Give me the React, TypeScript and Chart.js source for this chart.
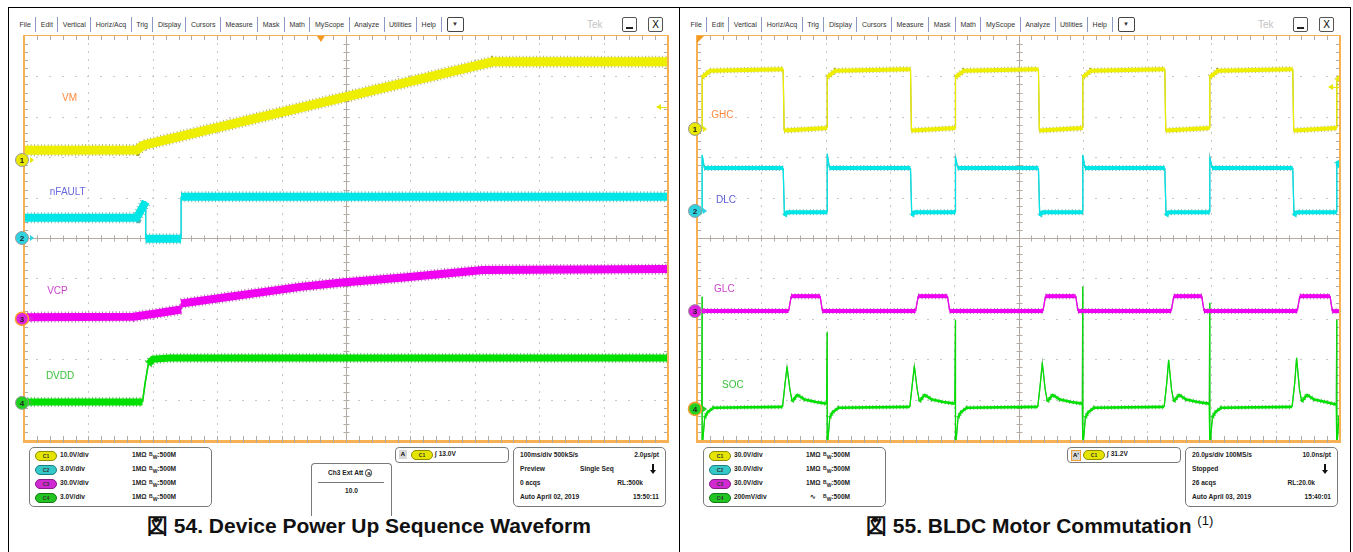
import React, { useEffect, useRef } from "react";
import { Chart, registerables } from "chart.js";

Chart.register(...registerables);

// ---------------- Figure 54 (x: ms, 100 ms/div ; y: screen divisions from centre) --------------
const vmTime = [0, 175, 186, 727, 1000];
const vmLevel = [2.17, 2.18, 2.3, 4.36, 4.36];
const nfaultTime = [0, 175, 189, 189, 244, 244, 1000];
const nfaultLevel = [0.5, 0.5, 0.9, -0.02, -0.02, 1.02, 1.02];
const vcpTime = [0, 170, 205, 244, 244, 429, 490, 594, 713, 1000];
const vcpLevel = [-1.96, -1.95, -1.87, -1.77, -1.62, -1.21, -1.11, -0.97, -0.79, -0.77];
const dvddTime = [0, 184, 188, 193, 200, 225, 1000];
const dvddLevel = [-4.06, -4.06, -3.6, -3.12, -3.0, -2.97, -2.97];

// ---------------- Figure 55 (x: µs, 20 µs/div ; y: screen divisions from centre) --------------
const ghcTime = [0, 1.6, 1.6, 4, 26.8, 27.1, 40.5, 40.5, 43, 66.4, 66.7, 80.4, 80.4, 83, 106.2, 106.5, 120.0, 120.0, 122.5, 145.5, 145.8, 159.5, 159.5, 162, 185.3, 185.6, 199.0, 199.0, 200];
const ghcLevel = [2.7, 2.7, 3.98, 4.14, 4.18, 2.66, 2.72, 3.98, 4.14, 4.18, 2.66, 2.72, 3.98, 4.14, 4.18, 2.66, 2.72, 3.98, 4.14, 4.18, 2.66, 2.72, 3.98, 4.14, 4.18, 2.66, 2.72, 3.9, 4.0];
const dlcTime = [0, 1.6, 1.6, 2.3, 26.8, 27.2, 28.0, 40.5, 40.5, 41.2, 66.4, 66.8, 67.6, 80.4, 80.4, 81.1, 106.2, 106.6, 107.4, 120.0, 120.0, 120.7, 145.5, 145.9, 146.7, 159.5, 159.5, 160.2, 185.3, 185.7, 186.5, 199.0, 199.0, 200];
const dlcLevel = [0.64, 0.64, 2.05, 1.73, 1.73, 0.55, 0.64, 0.64, 2.08, 1.73, 1.73, 0.55, 0.64, 0.64, 2.0, 1.73, 1.73, 0.55, 0.64, 0.64, 2.05, 1.73, 1.73, 0.55, 0.64, 0.64, 2.0, 1.73, 1.73, 0.55, 0.64, 0.64, 1.9, 1.75];
const glcTime = [0, 28.5, 29.3, 38.3, 39.0, 68.0, 68.8, 77.9, 78.6, 107.6, 108.4, 117.8, 118.5, 147.5, 148.3, 157.0, 157.7, 186.7, 187.5, 196.9, 197.6, 200];
const glcLevel = [-1.81, -1.81, -1.44, -1.44, -1.81, -1.81, -1.44, -1.44, -1.81, -1.81, -1.44, -1.44, -1.81, -1.81, -1.44, -1.44, -1.81, -1.81, -1.44, -1.44, -1.81, -1.81];
const socTime = [
  0, 1.5, 1.6, 1.6, 2.4, 3.2, 5.1,
  26.6, 27.4, 28.0, 28.9, 29.6, 31.2, 33.5, 37.0, 40.3, 40.5, 40.5, 41.3, 42.1, 44.0,
  66.2, 67.0, 67.6, 68.5, 69.2, 70.8, 73.1, 76.6, 80.2, 80.4, 80.4, 81.2, 82.0, 83.9,
  106.0, 106.8, 107.4, 108.3, 109.0, 110.6, 112.9, 116.4, 119.8, 120.0, 120.0, 120.8, 121.6, 123.5,
  145.3, 146.1, 146.7, 147.6, 148.3, 149.9, 152.2, 155.7, 159.3, 159.5, 159.5, 160.3, 161.1, 163.0,
  185.1, 185.9, 186.5, 187.4, 188.1, 189.7, 192.0, 195.5, 198.8, 199.0, 199.0, 199.6, 200,
];
const socLevel = [
  -4.25, -4.2, -1.46, -5.2, -4.45, -4.32, -4.2,
  -4.18, -3.6, -3.19, -3.75, -4.05, -3.88, -4.0, -4.06, -4.1, -2.33, -5.2, -4.45, -4.32, -4.2,
  -4.18, -3.6, -3.17, -3.75, -4.05, -3.88, -4.0, -4.06, -4.1, -2.03, -5.2, -4.45, -4.32, -4.2,
  -4.18, -3.6, -3.09, -3.75, -4.05, -3.88, -4.0, -4.06, -4.1, -1.21, -5.2, -4.45, -4.32, -4.2,
  -4.18, -3.6, -3.02, -3.75, -4.05, -3.88, -4.0, -4.06, -4.1, -1.61, -5.2, -4.45, -4.32, -4.2,
  -4.18, -3.6, -2.97, -3.75, -4.05, -3.88, -4.0, -4.06, -4.12, -2.03, -5.2, -4.5, -4.4,
];

// ---------------- texts ----------------
const menuItems = ["File", "Edit", "Vertical", "Horiz/Acq", "Trig", "Display", "Cursors", "Measure", "Mask", "Math", "MyScope", "Analyze", "Utilities", "Help"];
const leftScales = ["10.0V/div", "3.0V/div", "30.0V/div", "3.0V/div"];
const rightScales = ["30.0V/div", "30.0V/div", "30.0V/div", "200mV/div"];
const leftTimebase = [["100ms/div 500kS/s", "2.0µs/pt"], ["Preview", "Single Seq"], ["0 acqs", "RL:500k"], ["Auto   April 02, 2019", "15:50:11"]];
const rightTimebase = [["20.0µs/div 100MS/s", "10.0ns/pt"], ["Stopped", ""], ["26 acqs", "RL:20.0k"], ["Auto   April 03, 2019", "15:40:01"]];

const FONT = '"Liberation Sans", Arial, sans-serif';
const C = {
  yellow: "#eeee00", yellowEdge: "rgba(140,136,0,0.75)",
  cyan: "#00e6e6", cyanEdge: "rgba(20,140,140,0.7)",
  magenta: "#f000f0", magentaEdge: "rgba(140,20,140,0.7)",
  green: "#00e000", greenEdge: "rgba(20,140,20,0.7)",
};
const pillColors = [
  ["#e4e400", "#8e8e00"], ["#36c8c8", "#1d8080"], ["#d22ad2", "#861a86"], ["#22c422", "#157a15"],
];

type Marker = { n: string; y: number; fill: string; ring: string };
type Label = { text: string; x: number; y: number; color: string };
type ScopeCfg = { markers: Marker[]; labels: Label[]; trigLevel: number; trigPos: number | null };

function steep(c: any) {
  return Math.abs(c.p1.y - c.p0.y) > 2 * Math.abs(c.p1.x - c.p0.x) + 1.5;
}

function trace(xs: number[], ys: number[], core: string, edge: string, w: number, ew: number, thin: number) {
  const data = xs.map((x, i) => ({ x, y: ys[i] }));
  return [
    {
      data, borderColor: core, borderWidth: w, order: 0, pointRadius: 0, clip: 0,
      borderJoinStyle: "round" as const,
      segment: { borderWidth: (c: any) => (steep(c) ? thin : undefined) },
    },
    {
      data, borderColor: edge, borderWidth: ew, order: 1, pointRadius: 0, clip: 0,
      borderDash: [0.8, 2.6],
      segment: {
        borderWidth: (c: any) => (steep(c) ? thin : undefined),
        borderDash: (c: any) => (steep(c) ? [] : undefined),
      },
    },
  ];
}

function makeScopePlugin(cfg: ScopeCfg) {
  return {
    id: "scope",
    beforeDatasetsDraw(chart: any) {
      const { ctx, chartArea: a, scales } = chart;
      const xs = scales.x, ys = scales.y;
      const x0 = xs.min, xd = (xs.max - xs.min) / 10;
      ctx.save();
      // dotted grid
      ctx.fillStyle = "#c8c8c8";
      for (let i = 1; i < 10; i++) {
        if (i === 5) continue;
        const px = Math.round(xs.getPixelForValue(x0 + i * xd));
        for (let k = 1; k < 50; k++) {
          const py = Math.round(ys.getPixelForValue(-5 + k * 0.2));
          ctx.fillRect(px, py - 1, 1, 2);
        }
      }
      for (let j = -4; j <= 4; j++) {
        if (j === 0) continue;
        const py = Math.round(ys.getPixelForValue(j));
        for (let k = 1; k < 50; k++) {
          const px = Math.round(xs.getPixelForValue(x0 + (k * xd) / 5));
          ctx.fillRect(px - 1, py, 2, 1);
        }
      }
      // centre lines with ticks
      ctx.strokeStyle = "#b3aba1";
      ctx.lineWidth = 1;
      const cx = Math.round(xs.getPixelForValue(x0 + 5 * xd)) + 0.5;
      const cy = Math.round(ys.getPixelForValue(0)) + 0.5;
      ctx.beginPath();
      ctx.moveTo(a.left, cy); ctx.lineTo(a.right, cy);
      ctx.moveTo(cx, a.top); ctx.lineTo(cx, a.bottom);
      for (let k = 1; k < 50; k++) {
        const px = Math.round(xs.getPixelForValue(x0 + (k * xd) / 5)) + 0.5;
        const py = Math.round(ys.getPixelForValue(-5 + k * 0.2)) + 0.5;
        ctx.moveTo(px, cy - 3); ctx.lineTo(px, cy + 3);
        ctx.moveTo(cx - 3, py); ctx.lineTo(cx + 3, py);
        // border ticks
        ctx.moveTo(px, a.top); ctx.lineTo(px, a.top + 4);
        ctx.moveTo(px, a.bottom); ctx.lineTo(px, a.bottom - 4);
        ctx.moveTo(a.left, py); ctx.lineTo(a.left + 4, py);
        ctx.moveTo(a.right, py); ctx.lineTo(a.right - 4, py);
      }
      ctx.stroke();
      ctx.restore();
    },
    afterDatasetsDraw(chart: any) {
      const { ctx, chartArea: a, scales } = chart;
      const xs = scales.x, ys = scales.y;
      ctx.save();
      // orange frame
      ctx.fillStyle = "#f6b154";
      ctx.fillRect(a.left - 1, a.top - 1, a.right - a.left + 2, 1);
      ctx.fillRect(a.left - 1, a.top - 1, 2, a.bottom - a.top + 1);
      ctx.fillRect(a.right - 1, a.top - 1, 2, a.bottom - a.top + 1);
      ctx.fillRect(a.left - 1, a.bottom, a.right - a.left + 2, 3);
      ctx.strokeStyle = "#a8a8a8";
      ctx.beginPath();
      for (let k = 1; k < 50; k++) {
        const px = Math.round(xs.getPixelForValue(xs.min + (k * (xs.max - xs.min)) / 50)) + 0.5;
        ctx.moveTo(px, a.bottom); ctx.lineTo(px, a.bottom + 3);
      }
      ctx.stroke();
      // trigger position
      ctx.fillStyle = "#f39a1e";
      if (cfg.trigPos !== null) {
        const tx = xs.getPixelForValue(cfg.trigPos);
        ctx.beginPath();
        ctx.moveTo(tx - 4, a.top); ctx.lineTo(tx + 4, a.top); ctx.lineTo(tx, a.top + 6); ctx.closePath(); ctx.fill();
      } else {
        ctx.beginPath();
        ctx.moveTo(a.left, a.top); ctx.lineTo(a.left + 7, a.top); ctx.lineTo(a.left, a.top + 7); ctx.closePath(); ctx.fill();
      }
      // trigger level arrow
      const ty = ys.getPixelForValue(cfg.trigLevel);
      ctx.fillStyle = "#e8e800";
      ctx.strokeStyle = "#e8e800";
      ctx.beginPath();
      ctx.moveTo(a.right - 12, ty); ctx.lineTo(a.right - 7, ty - 3); ctx.lineTo(a.right - 7, ty + 3); ctx.closePath(); ctx.fill();
      ctx.beginPath(); ctx.moveTo(a.right - 8, ty + 0.5); ctx.lineTo(a.right - 1, ty + 0.5); ctx.stroke();
      // labels
      ctx.font = `10px ${FONT}`;
      ctx.textBaseline = "middle";
      ctx.textAlign = "left";
      for (const l of cfg.labels) {
        ctx.fillStyle = l.color;
        ctx.fillText(l.text, xs.getPixelForValue(l.x), ys.getPixelForValue(l.y));
      }
      // channel markers
      for (const m of cfg.markers) {
        const my = ys.getPixelForValue(m.y);
        const mx = a.left - 2;
        ctx.fillStyle = m.fill;
        ctx.beginPath();
        ctx.moveTo(mx + 8, my - 3); ctx.lineTo(mx + 12, my); ctx.lineTo(mx + 8, my + 3); ctx.closePath(); ctx.fill();
        ctx.beginPath(); ctx.arc(mx, my, 6.5, 0, Math.PI * 2); ctx.fill();
        ctx.lineWidth = m.ring === "#9a9a9a" ? 1 : 1.6;
        ctx.strokeStyle = m.ring; ctx.stroke();
        ctx.fillStyle = "#222";
        ctx.font = `bold 8px ${FONT}`;
        ctx.textAlign = "center";
        ctx.fillText(m.n, mx, my + 0.5);
      }
      ctx.restore();
    },
  };
}

function ScopeChart(props: { left: number; width: number; padLeft: number; xMax: number; datasets: any[]; cfg: ScopeCfg }) {
  const ref = useRef<HTMLCanvasElement | null>(null);
  useEffect(() => {
    if (!ref.current) return;
    const chart = new Chart(ref.current, {
      type: "line",
      data: { datasets: props.datasets },
      options: {
        animation: false,
        responsive: false,
        devicePixelRatio: 1,
        events: [],
        layout: { padding: { left: props.padLeft, right: 10, top: 8, bottom: 4 } },
        scales: {
          x: { type: "linear", min: 0, max: props.xMax, display: false },
          y: { type: "linear", min: -5, max: 5, display: false },
        },
        plugins: { legend: { display: false }, tooltip: { enabled: false } },
      },
      plugins: [makeScopePlugin(props.cfg)],
    } as any);
    return () => chart.destroy();
  }, []);
  return (
    <canvas ref={ref} width={props.width} height={416}
      style={{ position: "absolute", left: props.left, top: 28, width: props.width, height: 416 }} />
  );
}

const abs = (l: number, t: number, extra: any = {}) => ({ position: "absolute" as const, left: l, top: t, ...extra });

function MenuBar({ x }: { x: number }) {
  return (
    <>
      <div style={abs(x + 7, 17, { height: 15, display: "flex", alignItems: "center", fontSize: 7, fontFamily: FONT, color: "#333", whiteSpace: "nowrap" })}>
        {menuItems.map((m, i) => (
          <span key={m} style={{ padding: "0 4.5px", borderLeft: i ? "1px solid #8d9bc4" : "none", height: 15, lineHeight: "15px" }}>{m}</span>
        ))}
        <span style={{ borderLeft: "1px solid #8d9bc4", height: 15, paddingLeft: 5 }}>
          <span style={{ display: "inline-block", width: 15, height: 13, border: "1px solid #444", borderRadius: 2, textAlign: "center", lineHeight: "13px", fontSize: 6 }}>▼</span>
        </span>
      </div>
      <div style={abs(x + 579, 19, { fontSize: 10, fontFamily: FONT, color: "#c4c4c4" })}>Tek</div>
      <div style={abs(x + 614, 17, { width: 13, height: 13, border: "1px solid #555", borderRadius: 2 })}>
        <div style={abs(3, 9, { width: 7, height: 2, background: "#222" })} />
      </div>
      <div style={abs(x + 640, 17, { width: 13, height: 13, border: "1px solid #555", borderRadius: 2, fontSize: 10, fontFamily: FONT, textAlign: "center", lineHeight: "13px" })}>X</div>
    </>
  );
}

function Pill({ x, y, idx }: { x: number; y: number; idx: number }) {
  const [bg, bd] = pillColors[idx];
  return (
    <div style={abs(x, y, { width: 20, height: 8, borderRadius: 5, background: bg, border: `1px solid ${bd}`, fontSize: 5, lineHeight: "8px", textAlign: "center", color: "#333", fontFamily: FONT, fontWeight: "bold" })}>C{idx + 1}</div>
  );
}

const infoText = { fontSize: 6.6, fontFamily: FONT, fontWeight: "bold" as const, color: "#222", whiteSpace: "nowrap" as const };

function ChannelBox({ x, scales, acLast }: { x: number; scales: string[]; acLast: boolean }) {
  return (
    <div style={abs(x, 447, { width: 181, height: 58, border: "1px solid #7a7a7a", borderRadius: 5 })}>
      {scales.map((s, i) => (
        <React.Fragment key={i}>
          <Pill x={5} y={3 + i * 14} idx={i} />
          <div style={abs(30, 3 + i * 14, infoText)}>{s}</div>
          <div style={abs(acLast && i === 3 ? 106 : 102, 3 + i * 14, infoText)}>{acLast && i === 3 ? "\u223F" : "1MΩ"}</div>
          <div style={abs(119, 3 + i * 14, infoText)}>
            <span style={{ position: "relative", top: -1.5, fontSize: 5 }}>B</span>
            <span style={{ position: "relative", top: 1.5, fontSize: 5 }}>W</span>:500M
          </div>
        </React.Fragment>
      ))}
    </div>
  );
}

function TimeBox({ x, rows }: { x: number; rows: string[][] }) {
  return (
    <div style={abs(x, 447, { width: 151, height: 58, border: "1px solid #7a7a7a", borderRadius: 5 })}>
      {rows.map((r, i) => (
        <React.Fragment key={i}>
          <div style={abs(6, 3 + i * 14, infoText)}>{r[0]}</div>
          {i === 1 && r[1] ? <div style={abs(66, 3 + i * 14, infoText)}>{r[1]}</div> : null}
          {i !== 1 ? <div style={abs(i === 2 ? 90 : 0, 3 + i * 14, { ...infoText, width: i === 2 ? 39 : 145, textAlign: "right" })}>{r[1]}</div> : null}
        </React.Fragment>
      ))}
      <div style={abs(138, 16, { width: 2, height: 7, background: "#111" })} />
      <div style={abs(136, 22, { width: 0, height: 0, borderLeft: "3px solid transparent", borderRight: "3px solid transparent", borderTop: "4px solid #111" })} />
    </div>
  );
}

function TrigBox({ x, label, level, primed }: { x: number; label: string; level: string; primed: boolean }) {
  return (
    <div style={abs(x, 447, { width: 112, height: 14, border: "1px solid #7a7a7a", borderRadius: 4 })}>
      <div style={abs(3, 2, { width: 8, height: 9, background: "#d8d8d8", border: primed ? "1px solid #f0a030" : "none", fontSize: 6, fontFamily: FONT, fontWeight: "bold", textAlign: "center", lineHeight: "9px" })}>{label}</div>
      <Pill x={15} y={2} idx={0} />
      <div style={abs(39, 2, infoText)}>∫ {level}</div>
    </div>
  );
}

export default function App() {
  const leftDatasets = [
    ...trace(vmTime, vmLevel, C.yellow, C.yellowEdge, 9, 12, 1.5),
    ...trace(nfaultTime, nfaultLevel, C.cyan, C.cyanEdge, 8, 11, 1.2),
    ...trace(vcpTime, vcpLevel, C.magenta, C.magentaEdge, 8, 11, 1.5),
    ...trace(dvddTime, dvddLevel, C.green, C.greenEdge, 7, 10, 1.5),
  ];
  const rightDatasets = [
    ...trace(ghcTime, ghcLevel, C.yellow, C.yellowEdge, 4, 6, 1.2),
    ...trace(dlcTime, dlcLevel, C.cyan, C.cyanEdge, 4, 6, 1.2),
    ...trace(glcTime, glcLevel, C.magenta, C.magentaEdge, 4, 6, 1.2),
    ...trace(socTime, socLevel, C.green, C.greenEdge, 2.6, 4.5, 1.2),
  ];
  const leftCfg: ScopeCfg = {
    markers: [
      { n: "1", y: 1.93, fill: "#e8e800", ring: "#9a9a9a" },
      { n: "2", y: 0, fill: "#2ed2e0", ring: "#9a9a9a" },
      { n: "3", y: -2.0, fill: "#e020e0", ring: "#f5a030" },
      { n: "4", y: -4.08, fill: "#20d020", ring: "#9a9a9a" },
    ],
    labels: [
      { text: "VM", x: 59, y: 3.47, color: "#ff8a3c" },
      { text: "nFAULT", x: 40, y: 1.14, color: "#6a6ae0" },
      { text: "VCP", x: 36, y: -1.31, color: "#c844c8" },
      { text: "DVDD", x: 34, y: -3.42, color: "#38c038" },
    ],
    trigLevel: 3.24,
    trigPos: 461,
  };
  const rightCfg: ScopeCfg = {
    markers: [
      { n: "1", y: 2.7, fill: "#e8e800", ring: "#9a9a9a" },
      { n: "2", y: 0.67, fill: "#2ed2e0", ring: "#9a9a9a" },
      { n: "3", y: -1.81, fill: "#e020e0", ring: "#9a9a9a" },
      { n: "4", y: -4.23, fill: "#20d020", ring: "#f5a030" },
    ],
    labels: [
      { text: "GHC", x: 4.4, y: 3.04, color: "#ff8a3c" },
      { text: "DLC", x: 5.9, y: 0.94, color: "#5a5ad8" },
      { text: "GLC", x: 5.3, y: -1.26, color: "#c844c8" },
      { text: "SOC", x: 7.8, y: -3.64, color: "#38c038" },
    ],
    trigLevel: 3.74,
    trigPos: null,
  };
  const captionStyle = { fontSize: 21, fontWeight: "bold" as const, fontFamily: FONT, color: "#111", whiteSpace: "nowrap" as const };
  return (
    <div style={{ position: "absolute", left: 0, top: 0, width: 1353, height: 552, background: "#fff", overflow: "hidden" }}>
      {/* outer frame */}
      <div style={abs(8, 7, { width: 1342, height: 1, background: "#000" })} />
      <div style={abs(8, 7, { width: 1, height: 545, background: "#000" })} />
      <div style={abs(679, 7, { width: 1, height: 545, background: "#000" })} />
      <div style={abs(1350, 7, { width: 1, height: 545, background: "#000" })} />

      <MenuBar x={8} />
      <MenuBar x={679} />

      <ScopeChart left={9} width={669} padLeft={15} xMax={1000} datasets={leftDatasets} cfg={leftCfg} />
      <ScopeChart left={680} width={670} padLeft={17} xMax={200} datasets={rightDatasets} cfg={rightCfg} />

      {/* left info */}
      <ChannelBox x={29} scales={leftScales} acLast={false} />
      <div style={abs(311, 463, { width: 79, height: 52, borderTop: "1px solid #7a7a7a", borderLeft: "1px solid #7a7a7a", borderRight: "1px solid #7a7a7a", borderRadius: "4px 4px 0 0" })}>
        <div style={abs(16, 5, infoText)}>Ch3 Ext Att <span style={{ border: "1px solid #333", borderRadius: 6, padding: "0 1px", fontSize: 6 }}>a</span></div>
        <div style={abs(6, 18, { width: 66, height: 1, background: "#777" })} />
        <div style={abs(0, 23, { ...infoText, width: 79, textAlign: "center" })}>10.0</div>
      </div>
      <TrigBox x={395} label="A" level="13.0V" primed={false} />
      <TimeBox x={513} rows={leftTimebase} />

      {/* right info */}
      <ChannelBox x={703} scales={rightScales} acLast={true} />
      <TrigBox x={1067} label="A'" level="31.2V" primed={true} />
      <TimeBox x={1185} rows={rightTimebase} />

      {/* captions */}
      <div style={abs(147, 512, captionStyle)}>図 54. Device Power Up Sequence Waveform</div>
      <div style={abs(866, 512, captionStyle)}>図 55. BLDC Motor Commutation <sup style={{ fontSize: 13, fontWeight: "normal" }}>(1)</sup></div>
    </div>
  );
}
